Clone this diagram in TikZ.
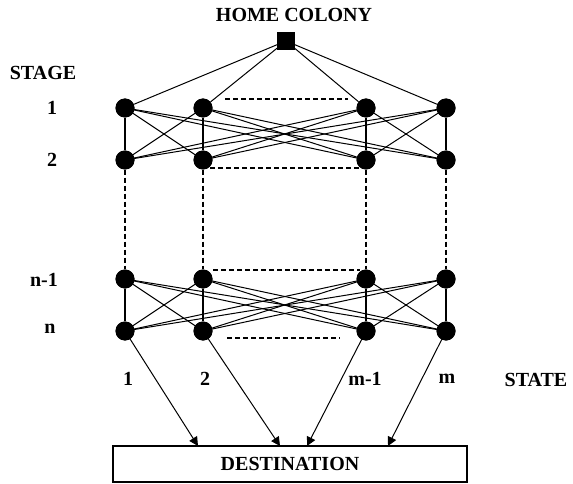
\documentclass[tikz,border=0pt]{standalone}
\usepackage{fontspec}
\setmainfont{Liberation Serif}
\usetikzlibrary{arrows.meta}
\begin{document}
\begin{tikzpicture}[x=1pt,y=-1pt,
  dot/.style={circle,fill=black,inner sep=0pt,minimum size=19pt},
  lbl/.style={font=\fontsize{20}{20}\selectfont\bfseries,inner sep=0pt},
  thin/.style={line width=1pt},
  vert/.style={line width=2pt},
  dsh/.style={line width=1.3pt,dash pattern=on 5pt off 3pt},
  arr/.style={line width=1pt,-{Triangle[length=9pt,width=9pt]}}]
\useasboundingbox (0,0) rectangle (573,484);
% home
\node[draw,fill=black,minimum size=17pt,inner sep=0pt] (home) at (286,41) {};
\node[lbl] (homelbl) at (294,15) {HOME COLONY};
% stage labels
\node[lbl] (stage) at (43,73) {STAGE};
\node[lbl] (l1) at (52,108) {1};
\node[lbl] (l2) at (52,160) {2};
\node[lbl] (ln1) at (44,280) {n-1};
\node[lbl] (ln) at (50,329) {n};
% nodes
\foreach \c/\x in {1/125,2/203,3/366,4/446}{
  \node[dot] (a\c) at (\x,108) {};
  \node[dot] (b\c) at (\x,160) {};
  \node[dot] (c\c) at (\x,279) {};
  \node[dot] (d\c) at (\x,331) {};
}
% home edges
\foreach \c in {1,2,3,4}{ \draw[thin] (home) -- (a\c); }
% full bipartite between stage rows
\foreach \i in {1,2,3,4}{
  \foreach \j in {1,2,3,4}{
    \ifnum\i=\j
      \draw[vert] (a\i) -- (b\j);
      \draw[vert] (c\i) -- (d\j);
    \else
      \draw[thin] (a\i.center) -- (b\j.center);
      \draw[thin] (c\i.center) -- (d\j.center);
    \fi
  }
}
% dashed horizontal
\coordinate (h1a) at (225,99);  \coordinate (h1b) at (348,99);
\coordinate (h2a) at (210,168); \coordinate (h2b) at (360,168);
\coordinate (h3a) at (213,270); \coordinate (h3b) at (360,270);
\coordinate (h4a) at (227,338); \coordinate (h4b) at (340,338);
\draw[dsh] (h1a) -- (h1b);
\draw[dsh] (h2a) -- (h2b);
\draw[dsh] (h3a) -- (h3b);
\draw[dsh] (h4a) -- (h4b);
% dashed vertical
\foreach \c in {1,2,3,4}{ \draw[dsh] (b\c) -- (c\c); }
% state labels
\node[lbl] (s1) at (128,379) {1};
\node[lbl] (s2) at (205,379) {2};
\node[lbl] (sm1) at (365,379) {m-1};
\node[lbl] (sm) at (447,379) {m};
\node[lbl] (state) at (536,380) {STATE};
% destination
\node[draw,line width=1.2pt,minimum width=354pt,minimum height=36pt,inner sep=0pt,
  font=\fontsize{20}{20}\selectfont\bfseries] (dest) at (290,464) {DESTINATION};
\coordinate (t1) at (198,446);
\coordinate (t2) at (280,446);
\coordinate (t3) at (307,446);
\coordinate (t4) at (388,446);
\draw[arr] (d1.center) -- (t1);
\draw[arr] (d2.center) -- (t2);
\draw[arr] (d3.center) -- (t3);
\draw[arr] (d4.center) -- (t4);
% dots on top
\foreach \x in {125,203,366,446}{
  \fill (\x,108) circle (9.5pt);
  \fill (\x,160) circle (9.5pt);
  \fill (\x,279) circle (9.5pt);
  \fill (\x,331) circle (9.5pt);
}
\end{tikzpicture}
\end{document}
